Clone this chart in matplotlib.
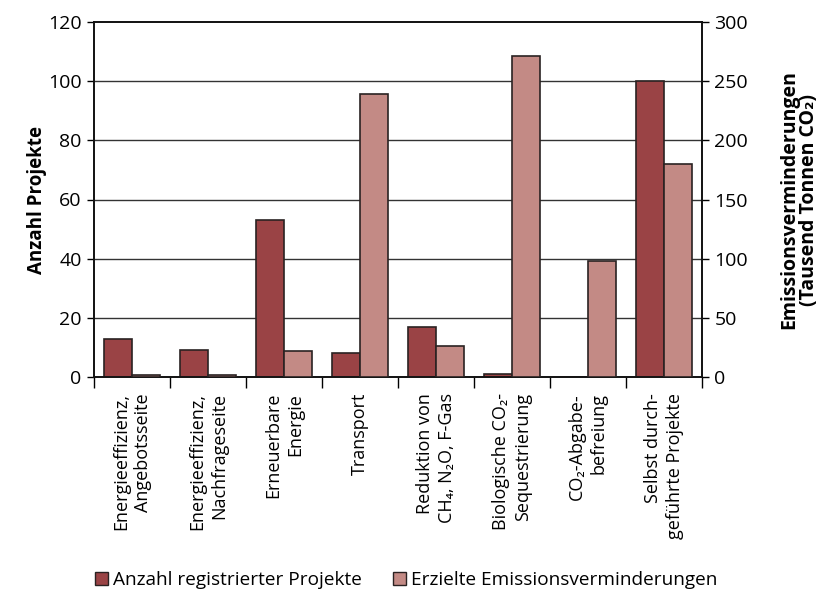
import matplotlib
matplotlib.use("Agg")
import matplotlib.pyplot as plt
import numpy as np
from matplotlib.patches import Patch

categories = [
    "Energieeffizienz,\nAngebotsseite",
    "Energieeffizienz,\nNachfrageseite",
    "Erneuerbare\nEnergie",
    "Transport",
    "Reduktion von\nCH₄, N₂O, F-Gas",
    "Biologische CO₂-\nSequestrierung",
    "CO₂-Abgabe-\nbefreiung",
    "Selbst durch-\ngeführte Projekte",
]
projekte = [13, 9, 53, 8, 17, 1, 0, 100]
emissionen = [2, 2, 22, 239, 26, 271, 98, 180]

left_ticks = [0, 20, 40, 60, 80, 100, 120]
right_ticks = [0, 50, 100, 150, 200, 250, 300]

series_names = ["Anzahl registrierter Projekte", "Erzielte Emissionsverminderungen"]

plt.rcParams['font.family'] = ['Open Sans', 'DejaVu Sans']
dark = "#9A4345"
light = "#C38A85"
edge = "#2a2222"

fig = plt.figure(figsize=(8.24, 5.98), dpi=100)
ax = fig.add_axes([94/824, 1 - 377/598, (702-94)/824, (377-22)/598])
ax2 = ax.twinx()

x = np.arange(len(categories))
w = 0.375
ax.bar(x - w/2, projekte, w, color=dark, edgecolor=edge, linewidth=1.2, zorder=3)
ax2.bar(x + w/2, emissionen, w, color=light, edgecolor=edge, linewidth=1.2, zorder=3)

ax.set_xlim(-0.5, len(categories) - 0.5)
ax.set_ylim(0, 120)
ax2.set_ylim(0, 300)
ax.set_yticks(left_ticks)
ax2.set_yticks(right_ticks)
ax.tick_params(axis='y', labelsize=14, length=5, width=1, direction='out', pad=4)
ax2.tick_params(axis='y', labelsize=14, length=5, width=1, direction='out', pad=4)

for yv in left_ticks[1:-1]:
    ax.axhline(yv, color="#333333", linewidth=1.0, zorder=1)

ax.set_xticks(np.arange(len(categories) + 1) - 0.5)
ax.set_xticklabels([])
ax.tick_params(axis='x', length=8, width=1, direction='out')
for i, c in enumerate(categories):
    ax.text(i, -0.045, c, transform=ax.get_xaxis_transform(), rotation=90,
            ha='center', va='top', multialignment='right', fontsize=13,
            linespacing=1.25)

for a in (ax, ax2):
    for s in a.spines.values():
        s.set_linewidth(1.2)
        s.set_color("#111111")

ax.set_ylabel("Anzahl Projekte", fontsize=13.5, fontweight='bold')
ax.yaxis.set_label_coords(-0.077, 0.5)
ax2.set_ylabel("Emissionsverminderungen\n(Tausend Tonnen CO₂)", fontsize=14,
               fontweight='bold', labelpad=22, rotation=90, linespacing=1.0)

handles = [Patch(facecolor=dark, edgecolor=edge, linewidth=1),
           Patch(facecolor=light, edgecolor=edge, linewidth=1)]
fig.legend(handles, series_names, loc='center', bbox_to_anchor=(0.493, 1 - 580/598),
           ncol=2, frameon=False, fontsize=13.7, handlelength=0.68, handleheight=0.68,
           handletextpad=0.3, columnspacing=1.6)

fig.savefig("out.png", dpi=100)
